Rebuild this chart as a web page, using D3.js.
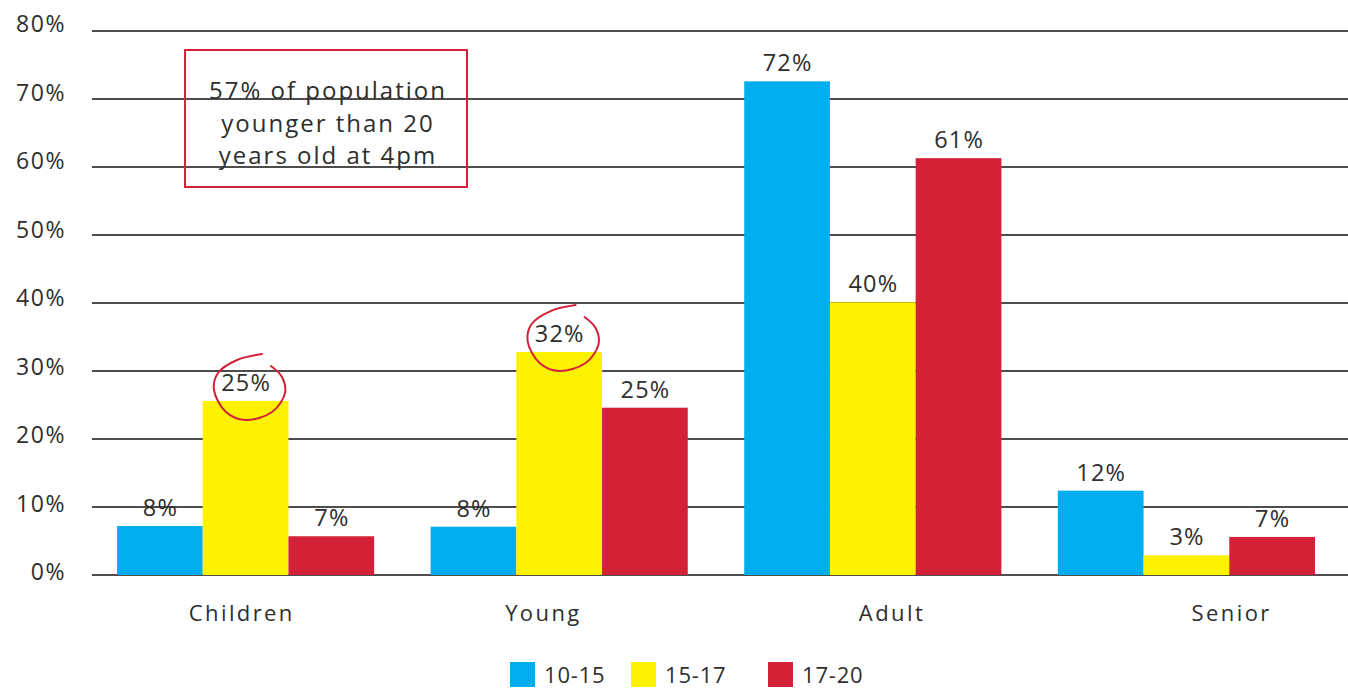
<!DOCTYPE html>
<html>
<head>
<meta charset="utf-8">
<script src="https://cdn.jsdelivr.net/npm/d3@7"></script>
<style>
  html, body { margin: 0; padding: 0; background: #fff; }
  svg { display: block; }
  text { font-family: "Open Sans", Lato, sans-serif; fill: #2e2e2e; }
</style>
</head>
<body>
<svg id="chart" width="1348" height="688"></svg>
<script>
// ---- data ----
const categories = ["Children", "Young", "Adult", "Senior"];
const seriesNames = ["10-15", "15-17", "17-20"];
const values_10_15 = [7.2, 7.1, 72.6, 12.4];
const values_15_17 = [25.6, 32.8, 40.1, 2.9];
const values_17_20 = [5.7, 24.6, 61.3, 5.6];
const labels_10_15 = ["8%", "8%", "72%", "12%"];
const labels_15_17 = ["25%", "32%", "40%", "3%"];
const labels_17_20 = ["7%", "25%", "61%", "7%"];
const yTicks = [0, 10, 20, 30, 40, 50, 60, 70, 80];
const noteLines = ["57% of population", "younger than 20", "years old at 4pm"];

// ---- layout / style ----
const colors = ["#00aeef", "#fff200", "#d32238"];
const svg = d3.select("#chart");
const y = d3.scaleLinear().domain([0, 80]).range([575, 31]);
const x0 = d3.scaleBand().domain(categories).range([117, 1315]).paddingInner(0.18).paddingOuter(0);
const x1 = d3.scaleBand().domain(seriesNames).range([0, x0.bandwidth()]).padding(0);
const catLabelNudge = [-5, -17, 18, 44];
const legendX = [510, 631, 768];

const allValues = [values_10_15, values_15_17, values_17_20];
const allLabels = [labels_10_15, labels_15_17, labels_17_20];

// gridlines
svg.append("g").selectAll("line").data(yTicks).join("line")
  .attr("x1", 92).attr("x2", 1348)
  .attr("y1", d => y(d)).attr("y2", d => y(d))
  .attr("stroke", "#4d4d4d").attr("stroke-width", 2);

// y tick labels
svg.append("g").selectAll("text").data(yTicks).join("text")
  .attr("x", 66).attr("y", d => y(d) + 1 + (80 - d) * 0.05)
  .attr("text-anchor", "end")
  .attr("font-size", 23)
  .attr("letter-spacing", 1.6)
  .text(d => d + "%");

// bars
const rows = [];
categories.forEach((c, i) => {
  seriesNames.forEach((s, j) => {
    rows.push({ cat: c, ci: i, ser: s, sj: j, v: allValues[j][i], label: allLabels[j][i] });
  });
});

svg.append("g").selectAll("rect").data(rows).join("rect")
  .attr("x", d => x0(d.cat) + x1(d.ser))
  .attr("width", x1.bandwidth())
  .attr("y", d => y(d.v))
  .attr("height", d => y(0) - y(d.v))
  .attr("fill", d => colors[d.sj]);

// value labels
svg.append("g").selectAll("text").data(rows).join("text")
  .attr("x", d => x0(d.cat) + x1(d.ser) + x1.bandwidth() / 2 + 0.6)
  .attr("y", d => y(d.v) - 10)
  .attr("text-anchor", "middle")
  .attr("font-size", 23.5)
  .attr("letter-spacing", 1.2)
  .text(d => d.label);

// category labels
svg.append("g").selectAll("text").data(categories).join("text")
  .attr("x", (d, i) => x0(d) + x0.bandwidth() / 2 + catLabelNudge[i] + 1.2)
  .attr("y", 621)
  .attr("text-anchor", "middle")
  .attr("font-size", 22)
  .attr("letter-spacing", 2.4)
  .text(d => d);

// legend
const lg = svg.append("g").selectAll("g").data(seriesNames).join("g")
  .attr("transform", (d, i) => `translate(${legendX[i]},662)`);
lg.append("rect").attr("width", 25).attr("height", 25).attr("fill", (d, i) => colors[i]);
lg.append("text").attr("x", 34).attr("y", 21).attr("font-size", 22)
  .attr("letter-spacing", 0.8).text(d => d);

// annotation box
svg.append("rect")
  .attr("x", 185).attr("y", 50).attr("width", 282).attr("height", 137)
  .attr("fill", "none").attr("stroke", "#d32238").attr("stroke-width", 2);
svg.append("g").selectAll("text").data(noteLines).join("text")
  .attr("x", 328).attr("y", (d, i) => 99 + i * 32.5)
  .attr("text-anchor", "middle")
  .attr("font-size", 24)
  .attr("letter-spacing", 2)
  .text(d => d);

// hand-drawn circles around highlighted labels
const circlePts = [[262,354],[237,360],[218,373],[214,390],[226,412],[245,420],[272,412],[285,393],[282,377],[271,366]];
const circleAround = [
  { ser: "15-17", cat: "Children" },
  { ser: "15-17", cat: "Young" }
];
const line = d3.line().curve(d3.curveCatmullRom.alpha(0.5));
const base = { cx: x0("Children") + x1("15-17") + x1.bandwidth() / 2, cy: y(values_15_17[0]) };
circleAround.forEach(c => {
  const ci = categories.indexOf(c.cat);
  const cx = x0(c.cat) + x1(c.ser) + x1.bandwidth() / 2;
  const cy = y(values_15_17[ci]);
  const dx = cx - base.cx, dy = cy - base.cy;
  svg.append("path")
    .attr("d", line(circlePts.map(p => [p[0] + dx, p[1] + dy])))
    .attr("fill", "none").attr("stroke", "#d32238").attr("stroke-width", 2)
    .attr("stroke-linecap", "round");
});
</script>
</body>
</html>
